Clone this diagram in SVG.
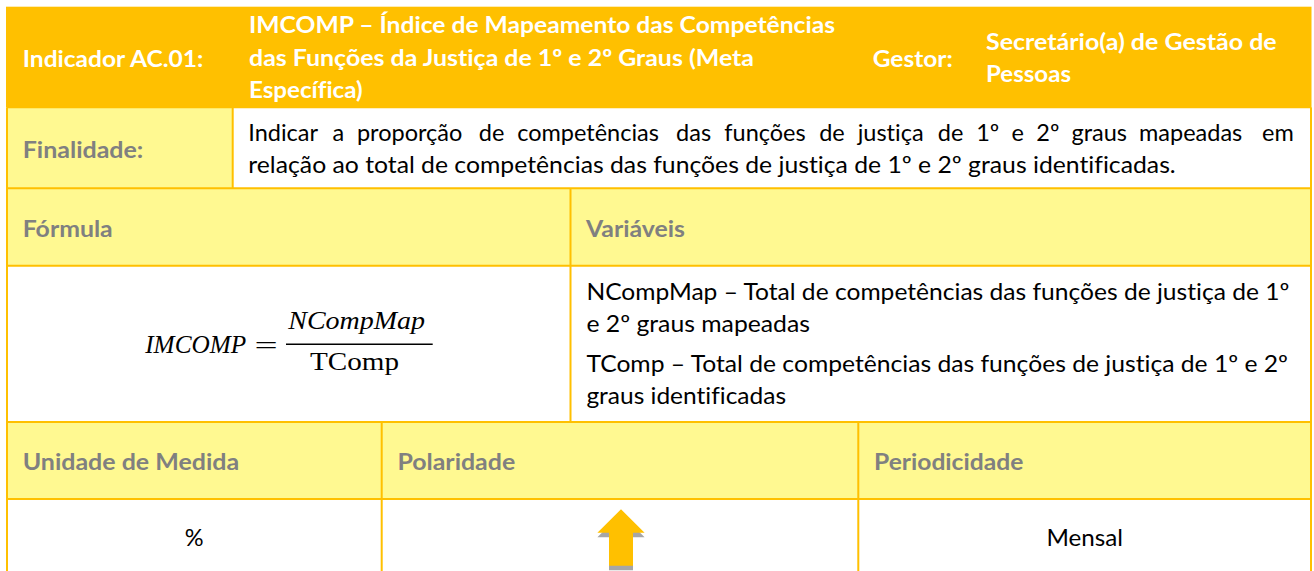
<svg xmlns="http://www.w3.org/2000/svg" width="1314" height="571" viewBox="0 0 1314 571">
<style>
.t{font-family:Lato,"Open Sans","Liberation Sans",sans-serif;font-size:23.5px;font-variant-ligatures:none}
.hd{font-weight:bold;fill:#FFFFFF}
.lb{font-weight:bold;fill:#808080}
.bd{fill:#000000}
.m{font-family:"Liberation Serif","DejaVu Serif",serif;font-size:26px;fill:#000000}
.i{font-style:italic}
.ln{stroke:#FFC000;stroke-width:2;fill:none}
.hl{fill:#FFF991}
</style>
<rect width="1314" height="571" fill="#FFFFFF"/>
<g id="backgrounds">
<rect x="6" y="6.7" width="1305.5" height="100.6" fill="#FFC000"/>
<rect class="hl" x="7" y="107.3" width="225.7" height="81"/>
<rect class="hl" x="7" y="188.3" width="1304" height="77.4"/>
<rect class="hl" x="7" y="422" width="1304" height="77"/>
</g>
<g id="grid">
<path class="ln" d="M7 107.3 V571 M1311 107.3 V571 M7 107.3 H1311 M7 188.3 H1311 M7 265.7 H1311 M7 422 H1311 M7 499 H1311 M232.7 107.3 V188.3 M570.5 188.3 V422 M381.7 422 V571 M858.3 422 V571"/>
</g>
<g id="header">
<text class="t hd" x="22.7" y="66.5" textLength="180.6" lengthAdjust="spacingAndGlyphs">Indicador AC.01:</text>
<text class="t hd" x="249" y="33.3" textLength="586" lengthAdjust="spacingAndGlyphs">IMCOMP – Índice de Mapeamento das Competências</text>
<text class="t hd" x="249" y="65.7" textLength="505" lengthAdjust="spacingAndGlyphs">das Funções da Justiça de 1º e 2º Graus (Meta</text>
<text class="t hd" x="249" y="97.7" textLength="113.7" lengthAdjust="spacingAndGlyphs">Específica)</text>
<text class="t hd" x="872.7" y="66.5" textLength="80" lengthAdjust="spacingAndGlyphs">Gestor:</text>
<text class="t hd" x="986" y="50" textLength="290.7" lengthAdjust="spacingAndGlyphs">Secretário(a) de Gestão de</text>
<text class="t hd" x="986" y="81.7" textLength="85" lengthAdjust="spacingAndGlyphs">Pessoas</text>
</g>
<g id="finalidade">
<text class="t lb" x="22.7" y="158.3" textLength="120.6" lengthAdjust="spacingAndGlyphs">Finalidade:</text>
<text class="t bd" y="140.7"><tspan x="248.3">Indicar</tspan><tspan x="332.5">a</tspan><tspan x="356.9">proporção</tspan><tspan x="478.8">de</tspan><tspan x="517.2">competências</tspan><tspan x="676.1">das</tspan><tspan x="724.3">funções</tspan><tspan x="819.2">de</tspan><tspan x="857.7">justiça</tspan><tspan x="937.8">de</tspan><tspan x="976.2">1º</tspan><tspan x="1011.5">e</tspan><tspan x="1036.3">2º</tspan><tspan x="1071.5">graus</tspan><tspan x="1139">mapeadas</tspan><tspan x="1262">em</tspan></text>
<text class="t bd" x="248.3" y="173" textLength="927.4" lengthAdjust="spacingAndGlyphs">relação ao total de competências das funções de justiça de 1º e 2º graus identificadas.</text>
</g>
<g id="formula">
<text class="t lb" x="22.7" y="236.7" textLength="90" lengthAdjust="spacingAndGlyphs">Fórmula</text>
<text class="m i" x="145.2" y="352.7" textLength="101" lengthAdjust="spacingAndGlyphs">IMCOMP</text>
<text class="m" x="254.6" y="353.7" textLength="23.2" lengthAdjust="spacingAndGlyphs">=</text>
<line x1="286" y1="344.3" x2="432.7" y2="344.3" stroke="#000000" stroke-width="1.5"/>
<text class="m i" x="288.3" y="329" textLength="136.7" lengthAdjust="spacingAndGlyphs">NCompMap</text>
<text class="m" x="310" y="370" textLength="89" lengthAdjust="spacingAndGlyphs">TComp</text>
</g>
<g id="variaveis">
<text class="t lb" x="586" y="236.7" textLength="99" lengthAdjust="spacingAndGlyphs">Variáveis</text>
<text class="t bd" x="586.4" y="300" textLength="703" lengthAdjust="spacingAndGlyphs">NCompMap – Total de competências das funções de justiça de 1º</text>
<text class="t bd" x="586.4" y="332" textLength="223.6" lengthAdjust="spacingAndGlyphs">e 2º graus mapeadas</text>
<text class="t bd" x="586.4" y="372" textLength="701.6" lengthAdjust="spacingAndGlyphs">TComp – Total de competências das funções de justiça de 1º e 2º</text>
<text class="t bd" x="586.4" y="404" textLength="199.6" lengthAdjust="spacingAndGlyphs">graus identificadas</text>
</g>
<g id="unidade">
<text class="t lb" x="22.7" y="470" textLength="216.5" lengthAdjust="spacingAndGlyphs">Unidade de Medida</text>
<text class="t bd" x="194.2" y="546" text-anchor="middle">%</text>
</g>
<g id="polaridade">
<text class="t lb" x="397.4" y="470" textLength="117.8" lengthAdjust="spacingAndGlyphs">Polaridade</text>
<polygon points="621,509.3 644.6,532.7 633,532.7 633,565.7 609,565.7 609,532.7 597.4,532.7" fill="#A6A6A6" transform="translate(0,4.5)"/>
<polygon points="621,509.3 644.6,532.7 633,532.7 633,565.7 609,565.7 609,532.7 597.4,532.7" fill="#FFC000"/>
</g>
<g id="periodicidade">
<text class="t lb" x="874" y="470" textLength="149.3" lengthAdjust="spacingAndGlyphs">Periodicidade</text>
<text class="t bd" x="1084.7" y="546" text-anchor="middle" textLength="76.6" lengthAdjust="spacingAndGlyphs">Mensal</text>
</g>
</svg>
